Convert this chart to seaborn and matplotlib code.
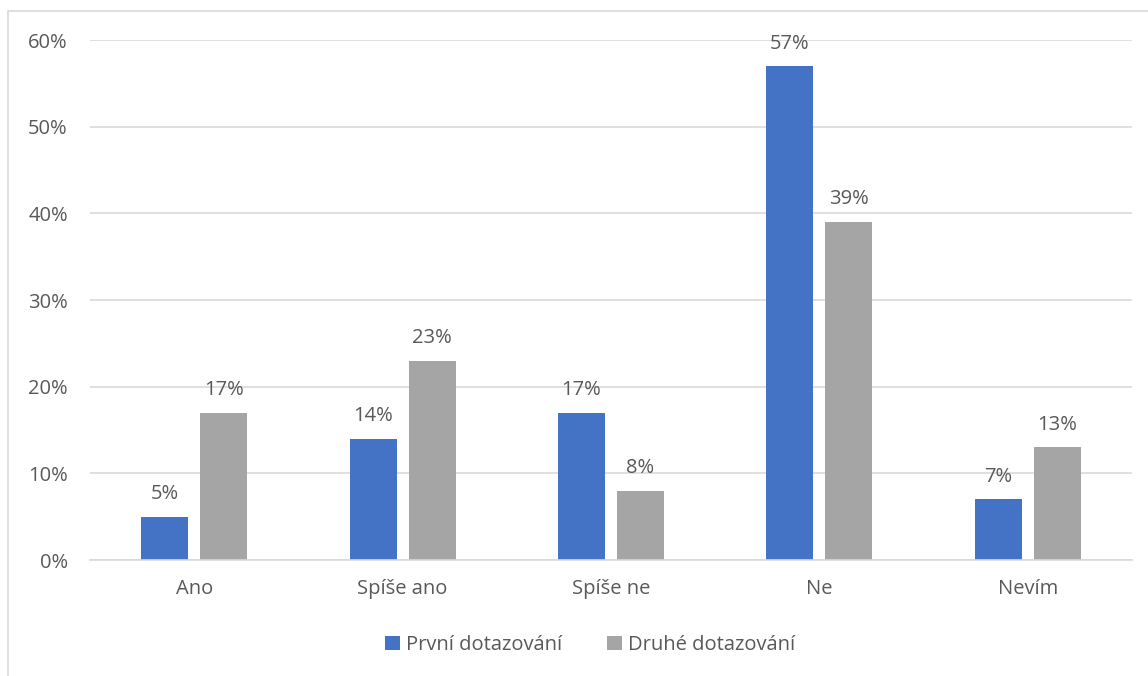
import matplotlib
matplotlib.use("Agg")
import matplotlib.pyplot as plt
import seaborn as sns
import pandas as pd
from matplotlib.patches import Rectangle
from matplotlib.ticker import PercentFormatter

categories = ["Ano", "Spíše ano", "Spíše ne", "Ne", "Nevím"]
series_names = ["První dotazování", "Druhé dotazování"]
prvni = [5, 14, 17, 57, 7]
druhe = [17, 23, 8, 39, 13]
yticks = [0, 10, 20, 30, 40, 50, 60]

df = pd.DataFrame({
    "kat": categories * 2,
    "serie": [series_names[0]] * 5 + [series_names[1]] * 5,
    "hod": prvni + druhe,
})

sns.set_theme(style="white")
plt.rcParams["font.family"] = ["Open Sans", "DejaVu Sans"]
txt = "#595959"
fs = 14.5

fig = plt.figure(figsize=(11.48, 6.76), dpi=100)
ax = fig.add_axes([90/1148, 1-560/676, (1132-90)/1148, (560-40)/676])

sns.barplot(data=df, x="kat", y="hod", hue="serie", order=categories,
            hue_order=series_names, palette=["#4472C4", "#A5A5A5"],
            width=0.566, gap=0.203, saturation=1, linewidth=0,
            ax=ax, legend=True)

ax.set_ylim(0, 60)
ax.set_yticks(yticks)
ax.yaxis.set_major_formatter(PercentFormatter(decimals=0))
ax.grid(axis="y", color="#d9d9d9", linewidth=1.2)
ax.set_axisbelow(True)
for s in ["left", "right", "top"]:
    ax.spines[s].set_visible(False)
ax.spines["bottom"].set_color("#d9d9d9")
ax.spines["bottom"].set_linewidth(1.2)
ax.set_xlabel("")
ax.set_ylabel("")
ax.tick_params(axis="both", length=0, colors=txt, labelsize=fs)
ax.tick_params(axis="y", pad=16)
ax.tick_params(axis="x", pad=14)

for cont in ax.containers:
    ax.bar_label(cont, labels=[f"{v:.0f}%" for v in cont.datavalues],
                 padding=9, color=txt, fontsize=fs)

leg = ax.legend(loc="center", bbox_to_anchor=(590/1148, 1-645/676),
                bbox_transform=fig.transFigure, ncol=2, frameon=False,
                fontsize=fs, handlelength=0.75, handleheight=0.75,
                handletextpad=0.3, columnspacing=2.2)
for t in leg.get_texts():
    t.set_color(txt)

fig.patches.append(Rectangle((8/1148, -0.2), 2, (676-11)/676 + 0.2,
                             transform=fig.transFigure, fill=False,
                             edgecolor="#d9d9d9", linewidth=1.2))

fig.savefig("out.png", dpi=100)
